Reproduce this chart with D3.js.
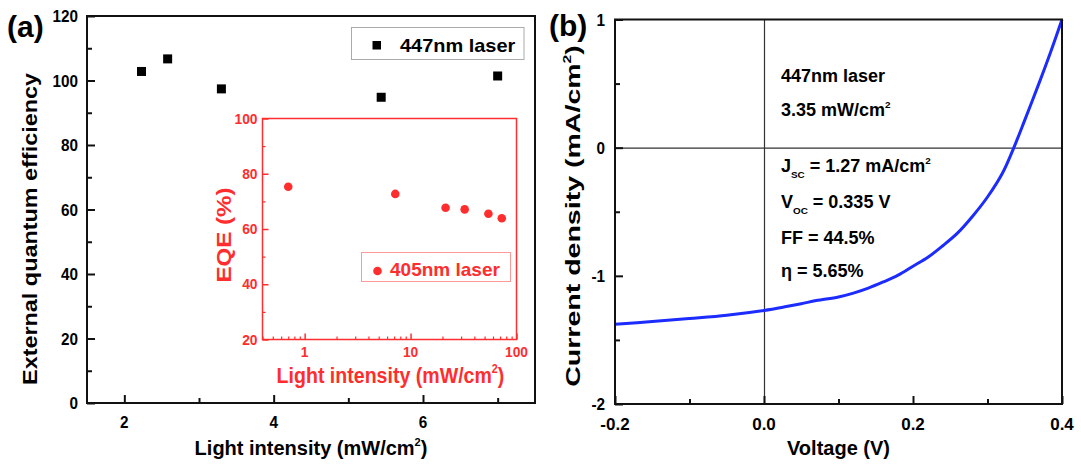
<!DOCTYPE html>
<html><head><meta charset="utf-8">
<script src="https://cdn.jsdelivr.net/npm/d3@7"></script>
<style>
html,body{margin:0;padding:0;background:#fff;}
svg{display:block;}
text{font-family:"Liberation Sans", Arial, Helvetica, sans-serif;font-weight:bold;}
</style></head><body>
<svg id="fig" width="1081" height="464"></svg>
<script>
// Panel (a): EQE vs light intensity under the 447 nm laser
const laser447Intensity = [2.23, 2.58, 3.30, 5.44, 7.00];
const laser447EQE = [102.8, 106.7, 97.4, 94.8, 101.4];
// Inset: EQE vs light intensity under the 405 nm laser (log x)
const laser405Intensity = [0.70, 7.17, 21.4, 32.4, 54.3, 72.6];
const laser405EQE = [75.3, 72.7, 67.7, 67.1, 65.5, 63.9];
// Panel (b): J-V curve
const voltage = [-0.20, -0.15, -0.10, -0.05, 0.00, 0.03, 0.05, 0.07, 0.10, 0.12, 0.14, 0.16, 0.18, 0.20, 0.22, 0.24, 0.26, 0.28, 0.30, 0.32, 0.335, 0.35, 0.37, 0.385, 0.40];
const currentDensity = [-1.377, -1.357, -1.333, -1.307, -1.270, -1.240, -1.218, -1.193, -1.165, -1.135, -1.096, -1.048, -0.995, -0.925, -0.855, -0.765, -0.665, -0.535, -0.385, -0.200, -0.005, 0.215, 0.515, 0.750, 1.0];

// Tick values
const eqeTicksX = [2, 4, 6];
const eqeMinorX = [3, 5, 7];
const eqeTicksY = [0, 20, 40, 60, 80, 100, 120];
const eqeMinorY = [10, 30, 50, 70, 90, 110];
const insetTicksX = [1, 10, 100];
const insetMinorX = [0.4, 0.5, 0.6, 0.7, 0.8, 0.9, 2, 3, 4, 5, 6, 7, 8, 9, 20, 30, 40, 50, 60, 70, 80, 90];
const insetTicksY = [20, 40, 60, 80, 100];
const insetMinorY = [30, 50, 70, 90];
const jvTicksX = [-0.2, 0.0, 0.2, 0.4];
const jvTickLabels = ["-0.2", "0.0", "0.2", "0.4"];
const jvMinorX = [-0.1, 0.1, 0.3];
const jvTicksY = [-2, -1, 0, 1];
const jvMinorY = [-1.5, -0.5, 0.5];

// Device figures of merit written inside panel (b)
const jvNotes = [
  ["447nm laser"],
  ["3.35 mW/cm", {sup: "2"}],
  ["J", {sub: "SC"}, " = 1.27 mA/cm", {sup: "2"}],
  ["V", {sub: "OC"}, " = 0.335 V"],
  ["FF = 44.5%"],
  ["\u03b7 = 5.65%"]
];
const jvNoteBaselines = [82, 116, 172, 208, 244, 277];

const RED = "#ff2d2d";
const BLUE = "#1c2cff";
const svg = d3.select("#fig");
svg.append("rect").attr("width", 1081).attr("height", 464).attr("fill", "#fff");

// Text with optional super/subscript segments, rotation and anisotropic scaling
function label(g, x, y, parts, o) {
  const size = o.size;
  let tr = `translate(${x},${y})`;
  if (o.rot) tr += ` rotate(${o.rot})`;
  tr += ` scale(${o.sx || 1},${o.sy || 1})`;
  const t = g.append("text").attr("transform", tr).attr("font-size", size)
    .attr("fill", o.fill || "#000").attr("text-anchor", o.anchor || "start");
  if (typeof parts === "string") parts = [parts];
  let cur = 0;
  parts.forEach(p => {
    if (typeof p === "string") {
      t.append("tspan").attr("dy", -cur).text(p);
      cur = 0;
    } else {
      const d = p.sup ? -size * 0.45 : size * 0.32;
      t.append("tspan").attr("dy", d - cur).attr("font-size", size * 0.55).text(p.sup || p.sub);
      cur = d;
    }
  });
  return t;
}

function tickAxis(g, axis, tf, color, width) {
  const a = g.append("g").attr("transform", tf).call(axis.tickFormat(() => ""));
  a.select(".domain").remove();
  a.selectAll(".tick line").attr("stroke", color).attr("stroke-width", width);
  return a;
}

// ---------------- Panel (a) ----------------
const A = {x0: 87, x1: 535, y0: 16, y1: 403};
const ax = d3.scaleLinear().domain([1.5, 7.5]).range([A.x0, A.x1]);
const ay = d3.scaleLinear().domain([0, 120]).range([A.y1, A.y0]);
const gA = svg.append("g");

tickAxis(gA, d3.axisBottom(ax).tickValues(eqeTicksX).tickSizeInner(-8).tickSizeOuter(0), `translate(0,${A.y1})`, "#111", 2);
tickAxis(gA, d3.axisBottom(ax).tickValues(eqeMinorX).tickSizeInner(-5).tickSizeOuter(0), `translate(0,${A.y1})`, "#111", 2);
tickAxis(gA, d3.axisLeft(ay).tickValues(eqeTicksY).tickSizeInner(-8).tickSizeOuter(0), `translate(${A.x0},0)`, "#111", 2);
tickAxis(gA, d3.axisLeft(ay).tickValues(eqeMinorY).tickSizeInner(-5).tickSizeOuter(0), `translate(${A.x0},0)`, "#111", 2);
gA.append("rect").attr("x", A.x0).attr("y", A.y0).attr("width", A.x1 - A.x0).attr("height", A.y1 - A.y0)
  .attr("fill", "none").attr("stroke", "#111").attr("stroke-width", 2);

eqeTicksX.forEach(v => label(gA, ax(v), 428, String(v), {size: 17, anchor: "middle", sx: 0.9}));
eqeTicksY.forEach(v => label(gA, A.x0 - 9, ay(v) + 6, String(v), {size: 17, anchor: "end", sx: 0.9}));
label(gA, (A.x0 + A.x1) / 2, 455, ["Light intensity (mW/cm", {sup: "2"}, ")"], {size: 20, anchor: "middle", sx: 1});
label(gA, 37, 229, "External quantum efficiency", {size: 20, anchor: "middle", rot: -90, sx: 1.17, sy: 1});
label(gA, 7, 37, "(a)", {size: 30});

gA.append("g").selectAll("rect").data(laser447Intensity).join("rect")
  .attr("x", (d) => ax(d) - 4.5).attr("y", (d, i) => ay(laser447EQE[i]) - 4.5)
  .attr("width", 9).attr("height", 9).attr("fill", "#000");

// Legend of panel (a)
gA.append("rect").attr("x", 351.5).attr("y", 27.5).attr("width", 172.5).attr("height", 32)
  .attr("fill", "#fff").attr("stroke", "#aaa").attr("stroke-width", 1);
gA.append("rect").attr("x", 372.5).attr("y", 41).attr("width", 8.5).attr("height", 8.5).attr("fill", "#000");
label(gA, 400, 51.5, "447nm laser", {size: 19, sx: 1.05});

// ---------------- Inset ----------------
const I = {x0: 262.5, x1: 516.5, y0: 118.5, y1: 339.5};
const ix = d3.scaleLog().domain([0.4, 100]).range([I.x0, I.x1]);
const iy = d3.scaleLinear().domain([20, 100]).range([I.y1, I.y0]);
const gI = svg.append("g");
gI.append("rect").attr("x", I.x0).attr("y", I.y0).attr("width", I.x1 - I.x0).attr("height", I.y1 - I.y0)
  .attr("fill", "#fff").attr("stroke", RED).attr("stroke-width", 1.5);
tickAxis(gI, d3.axisBottom(ix).tickValues(insetTicksX).tickSizeInner(-6).tickSizeOuter(0), `translate(0,${I.y1})`, RED, 1.5);
tickAxis(gI, d3.axisBottom(ix).tickValues(insetMinorX).tickSizeInner(-3).tickSizeOuter(0), `translate(0,${I.y1})`, RED, 1.2);
tickAxis(gI, d3.axisLeft(iy).tickValues(insetTicksY).tickSizeInner(-6).tickSizeOuter(0), `translate(${I.x0},0)`, RED, 1.5);
tickAxis(gI, d3.axisLeft(iy).tickValues(insetMinorY).tickSizeInner(-3).tickSizeOuter(0), `translate(${I.x0},0)`, RED, 1.2);

insetTicksX.forEach(v => label(gI, ix(v), 357, String(v), {size: 15, anchor: "middle", sx: 0.92, fill: RED}));
insetTicksY.forEach(v => label(gI, I.x0 - 5, iy(v) + 5, String(v), {size: 15, anchor: "end", sx: 0.92, fill: RED}));
label(gI, (I.x0 + I.x1) / 2 + 1, 382.5, ["Light intensity (mW/cm", {sup: "2"}, ")"], {size: 22, anchor: "middle", sx: 0.89, fill: RED});
label(gI, 231, 235, "EQE (%)", {size: 21, anchor: "middle", rot: -90, sx: 1.15, sy: 0.95, fill: RED});

gI.append("g").selectAll("circle").data(laser405Intensity).join("circle")
  .attr("cx", (d) => ix(d)).attr("cy", (d, i) => iy(laser405EQE[i])).attr("r", 4.3).attr("fill", RED);

gI.append("rect").attr("x", 361.5).attr("y", 252.5).attr("width", 149).attr("height", 29)
  .attr("fill", "#fff").attr("stroke", "#ff9a9a").attr("stroke-width", 1);
gI.append("circle").attr("cx", 377.5).attr("cy", 271).attr("r", 4.3).attr("fill", RED);
label(gI, 390, 275.5, "405nm laser", {size: 19, sx: 1.0, fill: RED});

// ---------------- Panel (b) ----------------
const B = {x0: 615, x1: 1062, y0: 19.5, y1: 404};
const bx = d3.scaleLinear().domain([-0.2, 0.4]).range([B.x0, B.x1]);
const by = d3.scaleLinear().domain([-2, 1]).range([B.y1, B.y0]);
const gB = svg.append("g");

// Zero lines
tickAxis(gB, d3.axisBottom(bx).tickValues([0]).tickSizeInner(-(B.y1 - B.y0)).tickSizeOuter(0), `translate(0,${B.y1})`, "#333", 1.2);
tickAxis(gB, d3.axisLeft(by).tickValues([0]).tickSizeInner(-(B.x1 - B.x0)).tickSizeOuter(0), `translate(${B.x0},0)`, "#333", 1.2);

tickAxis(gB, d3.axisBottom(bx).tickValues(jvTicksX).tickSizeInner(-8).tickSizeOuter(0), `translate(0,${B.y1})`, "#111", 2);
tickAxis(gB, d3.axisBottom(bx).tickValues(jvMinorX).tickSizeInner(-5).tickSizeOuter(0), `translate(0,${B.y1})`, "#111", 2);
tickAxis(gB, d3.axisLeft(by).tickValues(jvTicksY).tickSizeInner(-8).tickSizeOuter(0), `translate(${B.x0},0)`, "#111", 2);
tickAxis(gB, d3.axisLeft(by).tickValues(jvMinorY).tickSizeInner(-5).tickSizeOuter(0), `translate(${B.x0},0)`, "#111", 2);

const jvLine = d3.line().x((d) => bx(d[0])).y((d) => by(d[1])).curve(d3.curveCatmullRom.alpha(0.5));
gB.append("path").datum(voltage.map((v, i) => [v, currentDensity[i]]))
  .attr("d", jvLine).attr("fill", "none").attr("stroke", BLUE).attr("stroke-width", 3);

gB.append("rect").attr("x", B.x0).attr("y", B.y0).attr("width", B.x1 - B.x0).attr("height", B.y1 - B.y0)
  .attr("fill", "none").attr("stroke", "#111").attr("stroke-width", 2);

jvTicksX.forEach((v, i) => label(gB, bx(v), 430, jvTickLabels[i], {size: 17, anchor: "middle"}));
jvTicksY.forEach(v => label(gB, B.x0 - 10, by(v) + 6, String(v), {size: 17, anchor: "end", sx: 0.9}));
label(gB, (B.x0 + B.x1) / 2, 455, "Voltage (V)", {size: 20, anchor: "middle"});
label(gB, 580, 216, ["Current density (mA/cm", {sup: "2"}, ")"], {size: 21, anchor: "middle", rot: -90, sx: 1.36, sy: 1});
label(gB, 549, 36, "(b)", {size: 30});

jvNotes.forEach((parts, i) => label(gB, 781, jvNoteBaselines[i], parts, {size: 18}));
</script>
</body></html>
